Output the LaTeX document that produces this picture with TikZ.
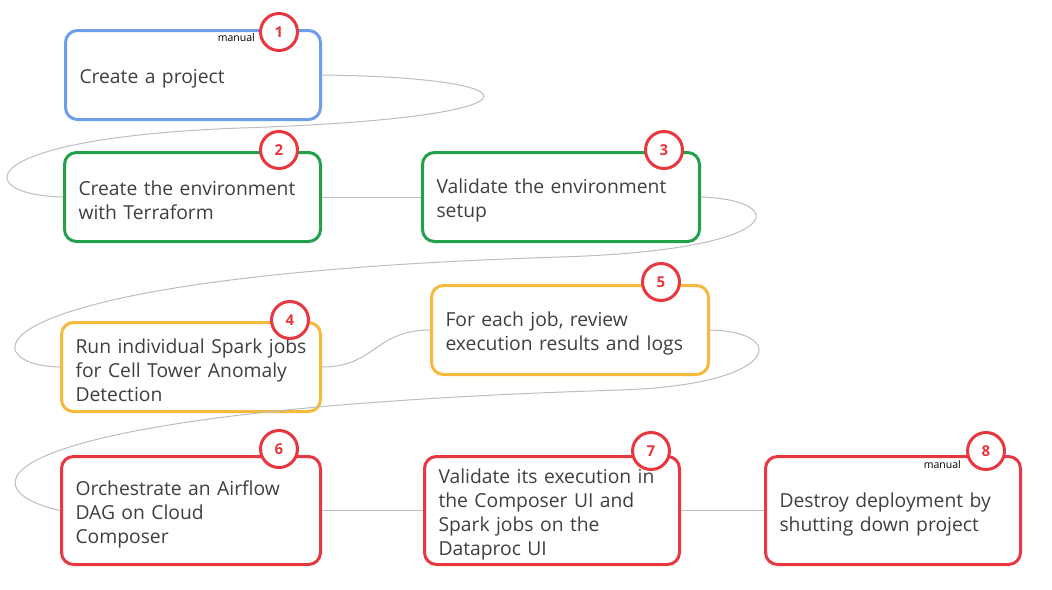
\documentclass[tikz,border=0pt]{standalone}
\usepackage{fontspec}
\setmainfont{Open Sans}
\definecolor{cblue}{HTML}{6D9EEB}
\definecolor{cgreen}{HTML}{22A04B}
\definecolor{cyellow}{HTML}{F6B93B}
\definecolor{cred}{HTML}{E8373F}
\definecolor{ctext}{HTML}{3C4043}
\definecolor{cline}{HTML}{BDBDBD}
\begin{document}
\begin{tikzpicture}[x=1pt,y=-1pt,
  stepbox/.style={draw, line width=3pt, rounded corners=12pt, fill=white, text=ctext,
    font=\fontsize{19.3}{24}\selectfont, align=left, inner xsep=14pt, inner ysep=0pt,
    execute at begin node={\rule{0pt}{22pt}}},
  badge/.style={circle, draw=cred, line width=3pt, fill=white, text=cred,
    font=\fontsize{15}{15}\selectfont\bfseries, minimum size=37pt, inner sep=0pt},
  manualtag/.style={font=\fontsize{10.5}{12}\selectfont, text=black, inner sep=0pt, anchor=east},
  conn/.style={draw=cline, line width=1pt}
]
\useasboundingbox[fill=white] (0,0) rectangle (1052,589);

\node[stepbox, draw=cblue, text width=227pt, minimum height=89pt] (b1) at (193,75) {Create a project};
\node[stepbox, draw=cgreen, text width=228pt, minimum height=89pt] (b2) at (192.5,197) {Create the environment\\with Terraform};
\node[stepbox, draw=cgreen, text width=249pt, minimum height=89pt] (b3) at (561,197) {Validate the environment\\setup};
\node[stepbox, draw=cyellow, text width=231pt, minimum height=89pt] (b4) at (191,367) {Run individual Spark jobs\\for Cell Tower Anomaly\\Detection};
\node[stepbox, draw=cyellow, text width=249pt, minimum height=89pt] (b5) at (570,330) {For each job, review\\execution results and logs};
\node[stepbox, draw=cred, text width=231pt, minimum height=108pt] (b6) at (191,510.5) {Orchestrate an Airflow\\DAG on Cloud\\Composer};
\node[stepbox, draw=cred, text width=227pt, minimum height=108pt] (b7) at (552,510.5) {Validate its execution in\\the Composer UI and\\Spark jobs on the\\Dataproc UI};
\node[stepbox, draw=cred, text width=227pt, minimum height=108pt] (b8) at (893,510.5) {Destroy deployment by\\shutting down project};

\coordinate (m1) at (240,128);
\coordinate (m2) at (560,257);
\coordinate (m3) at (620,390);

\draw[conn] (b1.east) .. controls (550,78) and (550,118) .. (m1) .. controls (-30,138) and (-30,195) .. (b2.west);
\draw[conn] (b2.east) -- (b3.west);
\draw[conn] (b3.east) .. controls (790,200) and (790,250) .. (m2) .. controls (-40,276) and (-30,365) .. (b4.west);
\draw[conn] (b4.east) .. controls (375,367) and (375,330) .. (b5.west);
\draw[conn] (b5.east) .. controls (790,332) and (780,385) .. (m3) .. controls (-20,410) and (-40,488) .. (b6.west);
\draw[conn] (b6.east) -- (b7.west);
\draw[conn] (b7.east) -- (b8.west);

\node[badge] (n1) at (279,32) {1};
\node[badge] (n2) at (279,150) {2};
\node[badge] (n3) at (664,150) {3};
\node[badge] (n4) at (290,320) {4};
\node[badge] (n5) at (661,282) {5};
\node[badge] (n6) at (279,449) {6};
\node[badge] (n7) at (651,451) {7};
\node[badge] (n8) at (986,451) {8};

\node[manualtag] (t1) at (255,38) {manual};
\node[manualtag] (t8) at (961,465) {manual};
\end{tikzpicture}
\end{document}
